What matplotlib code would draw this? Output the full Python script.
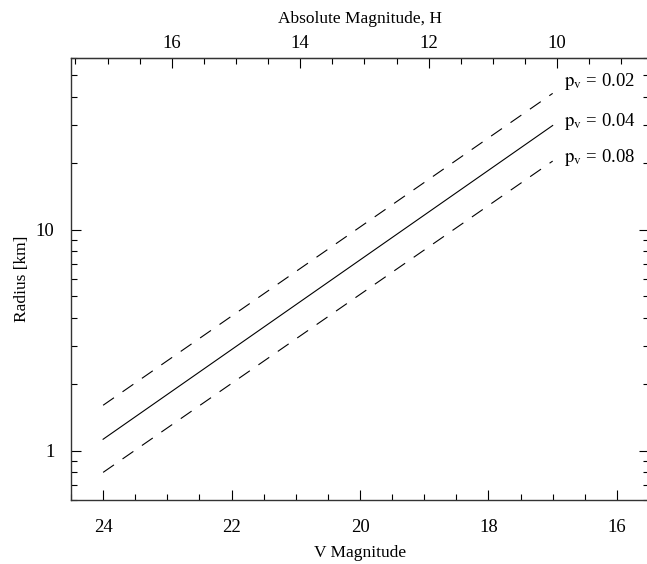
import numpy as np
import matplotlib.pyplot as plt
from matplotlib.ticker import MultipleLocator, LogLocator, NullFormatter, FixedLocator

plt.rcParams['font.family'] = ['Liberation Serif', 'DejaVu Serif']
plt.rcParams['mathtext.fontset'] = 'stix'
plt.rcParams['lines.scale_dashes'] = False

# V magnitude end points of each line
v_mag = np.array([24.0, 17.0])
# radius [km] at those end points, per albedo
albedos = ["0.02", "0.04", "0.08"]
radius_002 = np.array([1.61, 41.5])
radius_004 = np.array([1.13, 29.7])
radius_008 = np.array([0.80, 20.5])
h_offset = 6.93  # H = V - h_offset

bottom_ticks = [24, 22, 20, 18, 16]
top_ticks = [16, 14, 12, 10]

fig = plt.figure(figsize=(6.47, 5.64), dpi=100)
ax = fig.add_axes([71/647, 1-500/564, 578/647, 442/564])

dash = (9.5, 7.5)
ax.plot(v_mag, radius_002, color='black', lw=0.8, dashes=dash)
ax.plot(v_mag, radius_004, color='black', lw=0.8)
ax.plot(v_mag, radius_008, color='black', lw=0.8, dashes=dash)

ax.set_yscale('log')
ax.set_xlim(24.5, 15.5)
ax.set_ylim(0.6, 60)

ax.xaxis.set_major_locator(FixedLocator(bottom_ticks))
ax.xaxis.set_minor_locator(MultipleLocator(0.5))
ax.yaxis.set_minor_locator(LogLocator(base=10, subs=np.arange(2, 10)))
ax.yaxis.set_minor_formatter(NullFormatter())
ax.set_yticks([1, 10])
ax.set_yticklabels(['1', '10'])

ax.tick_params(which='both', direction='in', top=False, right=True, labelsize=13.5, width=0.8)
ax.tick_params(which='major', length=7)
ax.tick_params(which='minor', length=4)
ax.tick_params(axis='x', which='major', pad=14)
ax.tick_params(axis='y', which='major', pad=12)

for s in ax.spines.values():
    s.set_linewidth(1.0)
    s.set_color('#333333')

ax.set_xlabel('V Magnitude', fontsize=12.5, labelpad=6)
ax.set_ylabel('Radius [km]', fontsize=12.5, labelpad=4)

top = ax.secondary_xaxis('top', functions=(lambda v: v - h_offset, lambda h: h + h_offset))
top.xaxis.set_major_locator(FixedLocator(top_ticks))
top.xaxis.set_minor_locator(MultipleLocator(0.5))
top.tick_params(which='both', direction='in', labelsize=13.5, width=0.8, pad=4)
top.tick_params(which='major', length=7)
top.tick_params(which='minor', length=4)
top.set_xlabel('Absolute Magnitude, H', fontsize=12.5, labelpad=9)

for a, yv in zip(albedos, [47.0, 31.0, 21.3]):
    ax.text(16.83, yv, r'$\mathrm{p}_{\mathrm{v}}$ = ' + a, fontsize=13.5, va='center', ha='left')

fig.savefig('out.png', dpi=100)
